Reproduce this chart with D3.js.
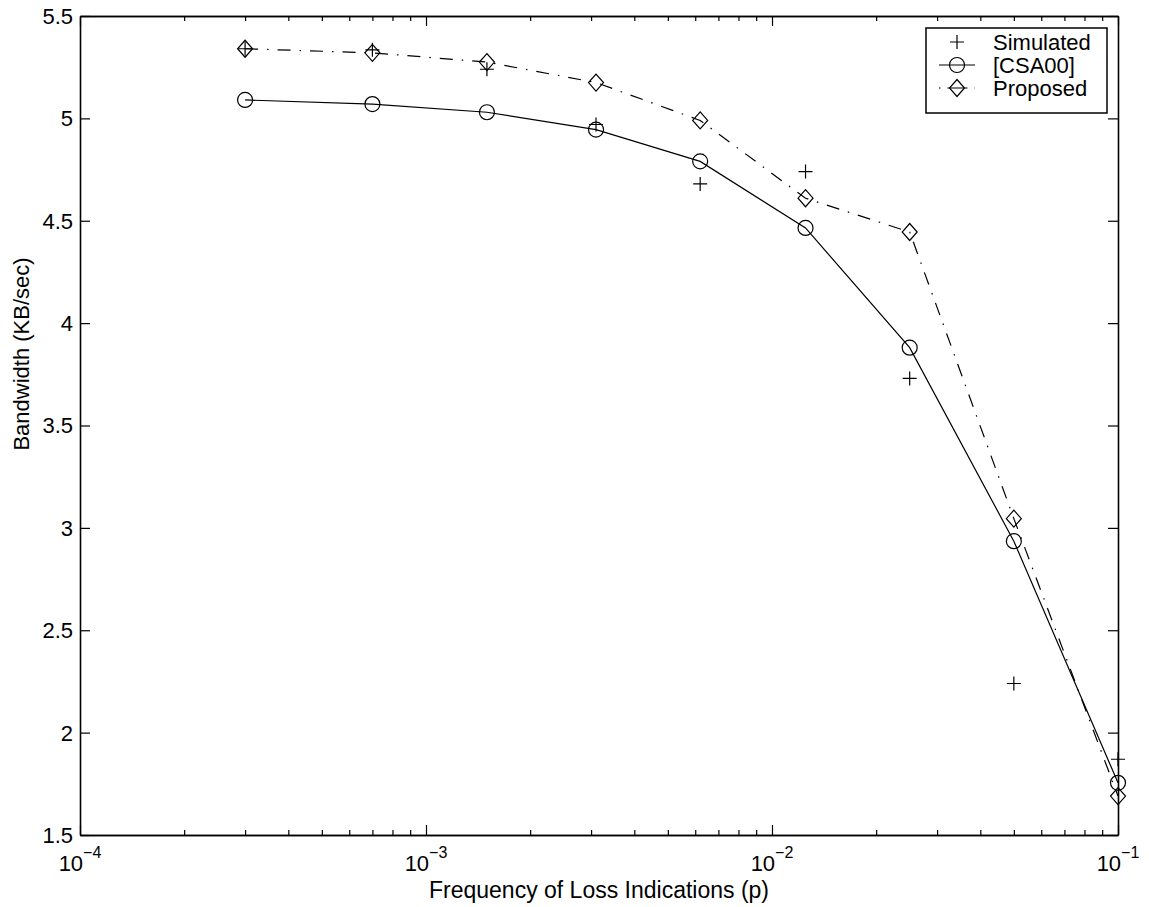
<!DOCTYPE html>
<html>
<head>
<meta charset="utf-8">
<title>Bandwidth vs loss frequency</title>
<script src="https://d3js.org/d3.v7.min.js"></script>
<style>
	body { margin: 0; background: #fff; }
	svg text { font-family: "Liberation Sans", Arial, Helvetica, sans-serif; font-size: 22px; fill: #000; }
	.axis path, .axis line { stroke: #000; }
	.axis path { stroke-width: 1.6; }
	.axis line { stroke-width: 1.2; }
</style>
</head>
<body>
<svg id="chart" width="1149" height="907"></svg>
<script>

	// loss frequency p
	var pValues = [0.0003, 0.0007, 0.0015, 0.0031, 0.0062, 0.0125, 0.025, 0.05, 0.1];
	// bandwidth, KB/sec
	var simulated = [5.34, 5.335, 5.24, 4.97, 4.68, 4.74, 3.73, 2.24, 1.87];
	var csa00     = [5.09, 5.07, 5.03, 4.945, 4.79, 4.465, 3.88, 2.935, 1.755];
	var proposed  = [5.34, 5.32, 5.275, 5.175, 4.99, 4.61, 4.445, 3.045, 1.69];

	var yTicks = [1.5, 2, 2.5, 3, 3.5, 4, 4.5, 5, 5.5];
	var xMajor = [1e-4, 1e-3, 1e-2, 1e-1];
	var xMajorExp = ["\u22124", "\u22123", "\u22122", "\u22121"];
	var legendNames = ["Simulated", "[CSA00]", "Proposed"];

	var svg = d3.select("#chart");
	var pLeft = 80, pRight = 1118, pTop = 16, pBottom = 835;

	var x = d3.scaleLog().domain([1e-4, 1e-1]).range([pLeft, pRight]);
	var y = d3.scaleLinear().domain([1.5, 5.5]).range([pBottom, pTop]);

	var xMinor = [];
	xMajor.slice(0, 3).forEach(function(m){
		for (var k = 2; k <= 9; k++) xMinor.push(m * k);
	});

	// minor x ticks, bottom and top
	svg.append("g").attr("class", "axis").attr("transform", "translate(0," + pBottom + ")")
		.call(d3.axisBottom(x).tickValues(xMinor).tickSize(-5).tickSizeOuter(0).tickFormat(""));
	svg.append("g").attr("class", "axis").attr("transform", "translate(0," + pTop + ")")
		.call(d3.axisTop(x).tickValues(xMinor).tickSize(-5).tickSizeOuter(0).tickFormat(""));

	// major x ticks
	svg.append("g").attr("class", "axis").attr("transform", "translate(0," + pBottom + ")")
		.call(d3.axisBottom(x).tickValues(xMajor).tickSize(-10).tickSizeOuter(0).tickFormat(""));
	svg.append("g").attr("class", "axis").attr("transform", "translate(0," + pTop + ")")
		.call(d3.axisTop(x).tickValues(xMajor).tickSize(-10).tickSizeOuter(0).tickFormat(""));

	xMajor.forEach(function(v, i){
		var t = svg.append("text")
			.attr("x", x(v))
			.attr("y", pBottom + 36)
			.attr("text-anchor", "middle");
		t.append("tspan").text("10");
		t.append("tspan").attr("dy", -13).style("font-size", "16px").text(xMajorExp[i]);
	});

	// y axes
	svg.append("g").attr("class", "axis").attr("transform", "translate(" + pLeft + ",0)")
		.call(d3.axisLeft(y).tickValues(yTicks).tickSize(-10).tickSizeOuter(0).tickFormat(""));
	svg.append("g").attr("class", "axis").attr("transform", "translate(" + pRight + ",0)")
		.call(d3.axisRight(y).tickValues(yTicks).tickSize(-10).tickSizeOuter(0).tickFormat(""));

	yTicks.forEach(function(v){
		svg.append("text")
			.attr("x", pLeft - 7)
			.attr("y", y(v))
			.attr("dy", "0.36em")
			.attr("text-anchor", "end")
			.text(d3.format("")(v));
	});

	// axis labels
	svg.append("text")
		.attr("x", (pLeft + pRight) / 2)
		.attr("y", 898)
		.attr("text-anchor", "middle")
		.style("font-size", "23px")
		.text("Frequency of Loss Indications (p)");

	svg.append("text")
		.attr("transform", "translate(29,354) rotate(-90)")
		.attr("text-anchor", "middle")
		.text("Bandwidth (KB/sec)");

	// marker drawing
	function plus(g, cx, cy) {
		g.append("path").attr("d", "M" + (cx - 7) + "," + cy + "H" + (cx + 7) + "M" + cx + "," + (cy - 7) + "V" + (cy + 7))
			.attr("stroke", "#000").attr("stroke-width", 1.2).attr("fill", "none");
	}
	function circle(g, cx, cy) {
		g.append("circle").attr("cx", cx).attr("cy", cy).attr("r", 7.5)
			.attr("stroke", "#000").attr("stroke-width", 1.2).attr("fill", "none");
	}
	function diamond(g, cx, cy) {
		g.append("path").attr("d", "M" + cx + "," + (cy - 8.5) + "L" + (cx + 7.5) + "," + cy + "L" + cx + "," + (cy + 8.5) + "L" + (cx - 7.5) + "," + cy + "Z")
			.attr("stroke", "#000").attr("stroke-width", 1.2).attr("fill", "none");
	}

	var line = d3.line().x(function(d){ return x(d[0]); }).y(function(d){ return y(d[1]); });
	var plot = svg.append("g");

	plot.append("path")
		.datum(pValues.map(function(p, i){ return [p, csa00[i]]; }))
		.attr("d", line).attr("fill", "none").attr("stroke", "#000").attr("stroke-width", 1.2);
	plot.append("path")
		.datum(pValues.map(function(p, i){ return [p, proposed[i]]; }))
		.attr("d", line).attr("fill", "none").attr("stroke", "#000").attr("stroke-width", 1.2)
		.attr("stroke-dasharray", "13,9,1.5,9");

	pValues.forEach(function(p, i){
		plus(plot, x(p), y(simulated[i]));
		circle(plot, x(p), y(csa00[i]));
		diamond(plot, x(p), y(proposed[i]));
	});

	// legend
	var lg = svg.append("g");
	lg.append("rect").attr("x", 926).attr("y", 28).attr("width", 181).attr("height", 85)
		.attr("fill", "#fff").attr("stroke", "#000").attr("stroke-width", 1.5);
	var ly = [42, 65, 88];
	lg.append("line").attr("x1", 939).attr("x2", 975).attr("y1", ly[1]).attr("y2", ly[1])
		.attr("stroke", "#000").attr("stroke-width", 1.2);
	lg.append("line").attr("x1", 939).attr("x2", 975).attr("y1", ly[2]).attr("y2", ly[2])
		.attr("stroke", "#000").attr("stroke-width", 1.2).attr("stroke-dasharray", "1.5,7,20,7");
	plus(lg, 957, ly[0]);
	circle(lg, 957, ly[1]);
	diamond(lg, 957, ly[2]);
	legendNames.forEach(function(n, i){
		lg.append("text").attr("x", 993).attr("y", ly[i]).attr("dy", "0.36em").text(n);
	});

</script>
</body>
</html>
